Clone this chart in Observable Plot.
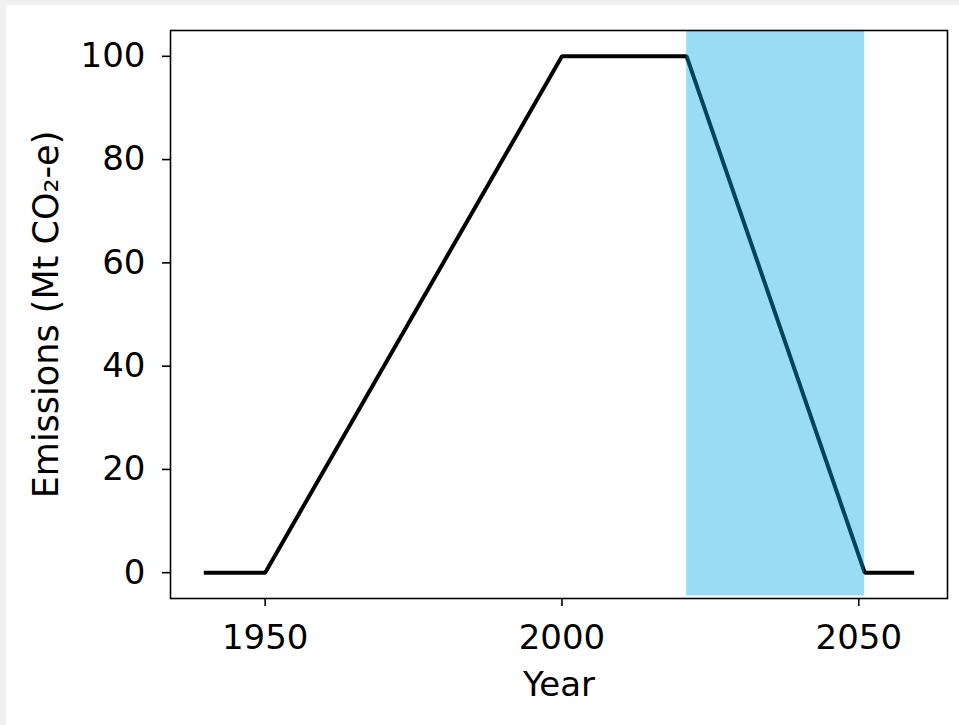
<!DOCTYPE html>
<html>
<head>
<meta charset="utf-8">
<script src="https://cdn.jsdelivr.net/npm/d3@7"></script>
<script src="https://cdn.jsdelivr.net/npm/@observablehq/plot@0.6"></script>
<style>
  html, body { margin: 0; padding: 0; background: #f0f0f0; width: 959px; height: 725px; overflow: hidden; }
  #chart { position: absolute; left: 6px; top: 5px; width: 953px; height: 720px; background: #ffffff; }
  #chart svg { display: block; font-family: "DejaVu Sans", sans-serif; }
</style>
</head>
<body>
<div id="chart"></div>
<script>
// Data
const years = [1940, 1950, 2000, 2021, 2051, 2059];
const emissions = [0, 0, 100, 100, 0, 0];
const xTicks = [1950, 2000, 2050];
const yTicks = [0, 20, 40, 60, 80, 100];
const bandStart = 2021;
const bandEnd = 2051;
const xLabel = "Year";
const yLabel = "Emissions (Mt CO\u2082-e)";

const series = years.map((yr, i) => ({year: yr, value: emissions[i]}));
const band = [{x1: bandStart, x2: bandEnd, y1: -4.5, y2: 105}];

const fs = 34;
const plot = Plot.plot({
  width: 953,
  height: 720,
  marginLeft: 164,
  marginRight: 12,
  marginTop: 25,
  marginBottom: 127,
  style: {background: "white", fontFamily: "DejaVu Sans, sans-serif", fontSize: fs + "px", color: "black"},
  x: {domain: [1934.05, 2064.95]},
  y: {domain: [-5, 105]},
  marks: [
    Plot.line(series, {x: "year", y: "value", stroke: "black", strokeWidth: 4, strokeLinejoin: "miter", strokeLinecap: "square"}),
    Plot.rect(band, {x1: "x1", x2: "x2", y1: "y1", y2: "y2", fill: "#00a8e4", fillOpacity: 0.4}),
    Plot.frame({stroke: "black", strokeWidth: 1.6}),
    Plot.axisX({ticks: xTicks, tickSize: 8, tickPadding: 18, fontSize: fs, tickFormat: d => String(d), strokeWidth: 1.6, label: null}),
    Plot.axisY({ticks: yTicks, tickSize: 8, tickPadding: 17, fontSize: fs, strokeWidth: 1.6, label: null}),
    Plot.text([xLabel], {text: d => d, frameAnchor: "bottom", lineAnchor: "top", dy: 73, fontSize: fs, fill: "black"}),
    Plot.text([yLabel], {text: d => d, frameAnchor: "left", rotate: -90, textAnchor: "middle", lineAnchor: "middle", dx: -124, fontSize: fs + 1, fill: "black"})
  ]
});
document.getElementById("chart").appendChild(plot);
</script>
</body>
</html>
